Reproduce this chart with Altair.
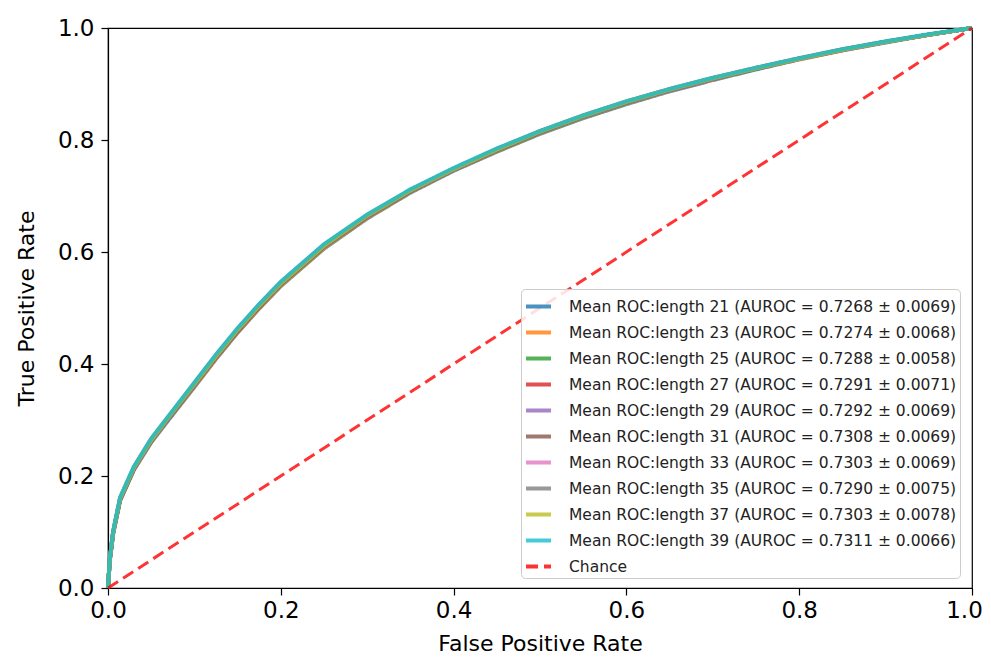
import altair as alt
import pandas as pd

fpr = [0, 0.002, 0.006, 0.014, 0.03, 0.05, 0.07, 0.1, 0.125, 0.15, 0.175, 0.2, 0.25, 0.3,
       0.35, 0.4, 0.45, 0.5, 0.55, 0.6, 0.65, 0.7, 0.75, 0.8, 0.85, 0.9, 0.95, 1.0]

tpr_21 = [0, 0.048, 0.097, 0.156, 0.211, 0.26, 0.3, 0.359, 0.409, 0.456, 0.499, 0.539, 0.606, 0.66, 0.706, 0.745, 0.779, 0.811, 0.839, 0.864, 0.887, 0.907, 0.926, 0.944, 0.96, 0.974, 0.988, 1.0]
tpr_23 = [0, 0.049, 0.098, 0.157, 0.212, 0.261, 0.302, 0.36, 0.41, 0.457, 0.5, 0.54, 0.607, 0.661, 0.707, 0.746, 0.78, 0.812, 0.84, 0.865, 0.888, 0.908, 0.927, 0.944, 0.96, 0.975, 0.988, 1.0]
tpr_25 = [0, 0.05, 0.099, 0.158, 0.213, 0.263, 0.303, 0.362, 0.412, 0.459, 0.502, 0.542, 0.609, 0.663, 0.708, 0.747, 0.781, 0.813, 0.841, 0.866, 0.889, 0.909, 0.927, 0.945, 0.961, 0.975, 0.988, 1.0]
tpr_27 = [0, 0.049, 0.099, 0.158, 0.213, 0.263, 0.303, 0.362, 0.412, 0.459, 0.502, 0.543, 0.61, 0.663, 0.709, 0.747, 0.782, 0.814, 0.842, 0.867, 0.889, 0.909, 0.928, 0.945, 0.961, 0.975, 0.988, 1.0]
tpr_29 = [0, 0.05, 0.1, 0.159, 0.214, 0.263, 0.304, 0.363, 0.413, 0.46, 0.503, 0.543, 0.61, 0.664, 0.709, 0.747, 0.782, 0.814, 0.842, 0.867, 0.889, 0.909, 0.928, 0.945, 0.961, 0.975, 0.988, 1.0]
tpr_31 = [0, 0.051, 0.101, 0.161, 0.216, 0.266, 0.306, 0.366, 0.416, 0.463, 0.506, 0.546, 0.613, 0.666, 0.711, 0.749, 0.784, 0.816, 0.844, 0.869, 0.891, 0.911, 0.929, 0.946, 0.962, 0.976, 0.988, 1.0]
tpr_33 = [0, 0.05, 0.1, 0.16, 0.215, 0.265, 0.305, 0.365, 0.415, 0.462, 0.505, 0.545, 0.612, 0.665, 0.71, 0.748, 0.783, 0.815, 0.843, 0.868, 0.89, 0.91, 0.928, 0.945, 0.961, 0.975, 0.988, 1.0]
tpr_35 = [0, 0.049, 0.099, 0.158, 0.213, 0.262, 0.303, 0.362, 0.412, 0.46, 0.503, 0.543, 0.61, 0.663, 0.709, 0.747, 0.782, 0.814, 0.841, 0.866, 0.889, 0.909, 0.927, 0.945, 0.961, 0.975, 0.988, 1.0]
tpr_37 = [0, 0.05, 0.1, 0.16, 0.215, 0.264, 0.305, 0.364, 0.414, 0.461, 0.504, 0.544, 0.611, 0.665, 0.71, 0.748, 0.783, 0.815, 0.843, 0.868, 0.89, 0.91, 0.928, 0.945, 0.961, 0.975, 0.988, 1.0]
tpr_39 = [0, 0.052, 0.102, 0.162, 0.217, 0.267, 0.307, 0.367, 0.417, 0.464, 0.507, 0.547, 0.614, 0.667, 0.712, 0.75, 0.785, 0.816, 0.844, 0.869, 0.891, 0.911, 0.929, 0.946, 0.962, 0.976, 0.989, 1.0]

lengths = [21, 23, 25, 27, 29, 31, 33, 35, 37, 39]
auroc = ["0.7268", "0.7274", "0.7288", "0.7291", "0.7292", "0.7308", "0.7303", "0.7290", "0.7303", "0.7311"]
auroc_std = ["0.0069", "0.0068", "0.0058", "0.0071", "0.0069", "0.0069", "0.0069", "0.0075", "0.0078", "0.0066"]
curves = [tpr_21, tpr_23, tpr_25, tpr_27, tpr_29, tpr_31, tpr_33, tpr_35, tpr_37, tpr_39]

chance_x = [0, 1]
chance_y = [0, 1]
chance_label = "Chance"

colors = ["#1f77b4", "#ff7f0e", "#2ca02c", "#d62728", "#9467bd",
          "#8c564b", "#e377c2", "#7f7f7f", "#bcbd22", "#17becf", "#ff0000"]

labels = [f"Mean ROC:length {l} (AUROC = {a} \u00b1 {s})" for l, a, s in zip(lengths, auroc, auroc_std)]
domain = labels + [chance_label]
dashes = [[1, 0]] * len(labels) + [[12, 6]]

rows = []
for lab, tp in zip(labels, curves):
    for x, y in zip(fpr, tp):
        rows.append({"fpr": x, "tpr": y, "series": lab})
curve_df = pd.DataFrame(rows)
chance_df = pd.DataFrame({"fpr": chance_x, "tpr": chance_y, "series": [chance_label] * 2})

FONT = "DejaVu Sans"
ticks = [0, 0.2, 0.4, 0.6, 0.8, 1.0]

x_enc = alt.X("fpr:Q", scale=alt.Scale(domain=[0, 1], nice=False),
              axis=alt.Axis(values=ticks, format=".1f", title="False Positive Rate",
                            labelOffset={"condition": {"test": "datum.value == 1", "value": -8}, "value": 0}))
y_enc = alt.Y("tpr:Q", scale=alt.Scale(domain=[0, 1], nice=False),
              axis=alt.Axis(values=ticks, format=".1f", title="True Positive Rate"))
legend = alt.Legend(title=None, orient="none", legendX=413, legendY=261)
color_enc = alt.Color("series:N", scale=alt.Scale(domain=domain, range=colors), legend=legend)
dash_enc = alt.StrokeDash("series:N", scale=alt.Scale(domain=domain, range=dashes), legend=legend)

curves_layer = alt.Chart(curve_df).mark_line(strokeWidth=4, opacity=0.8).encode(
    x=x_enc, y=y_enc, color=color_enc, strokeDash=dash_enc, order="fpr:Q"
)
chance_layer = alt.Chart(chance_df).mark_line(strokeWidth=3, opacity=0.8).encode(
    x=x_enc, y=y_enc, color=color_enc, strokeDash=dash_enc
)

chart = alt.layer(curves_layer, chance_layer).properties(
    width=864, height=560,
    autosize=alt.AutoSizeParams(type="none"),
    padding={"left": 100, "top": 20, "right": 11, "bottom": 68},
).configure_view(
    stroke="black", strokeWidth=1.2
).configure_axis(
    grid=False, domainColor="black", domainWidth=1.2, tickColor="black", tickWidth=1.2,
    tickSize=7, labelFont=FONT, labelFontSize=23, labelColor="black", labelFlush=False,
    titleFont=FONT, titleFontSize=22, titleFontWeight="normal", titleColor="black"
).configure_axisX(
    labelPadding=4, titlePadding=11
).configure_axisY(
    labelPadding=7, titlePadding=19
).configure_legend(
    labelFont=FONT, labelFontSize=15.5, labelColor="#222222", labelLimit=600,
    symbolType="stroke", symbolStrokeWidth=4, symbolSize=625, symbolOpacity=0.8,
    labelOffset=16, rowPadding=3, padding=3,
    fillColor="rgba(255,255,255,0.85)", strokeColor="#cccccc", cornerRadius=4
)

chart.save("out.html", embed_options={"renderer": "svg", "actions": False})
